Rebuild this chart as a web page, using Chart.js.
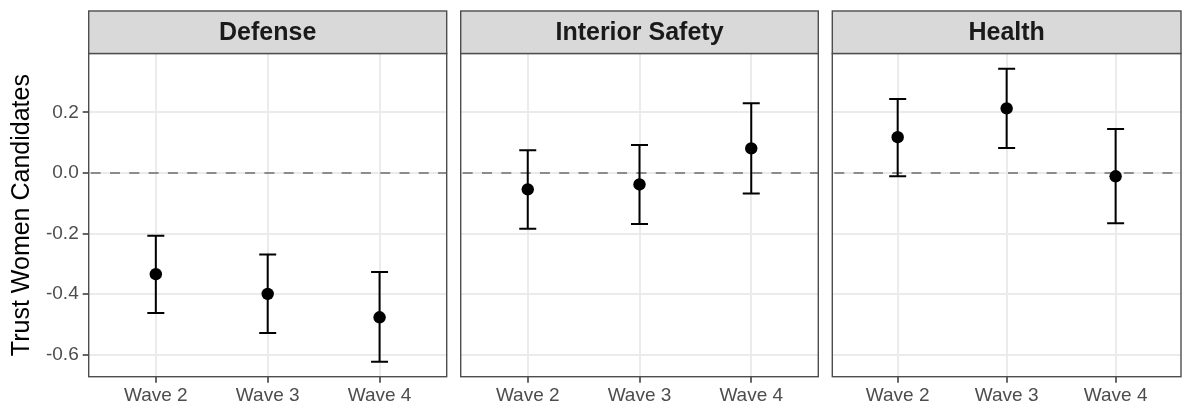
<!DOCTYPE html>
<html>
<head>
<meta charset="utf-8">
<script src="https://cdn.jsdelivr.net/npm/chart.js@4/dist/chart.umd.min.js"></script>
<style>
  html, body { margin: 0; padding: 0; background: #ffffff; }
  #wrap { position: relative; width: 1182px; height: 405px; overflow: hidden; }
  #wrap canvas { position: absolute; left: 0; top: 0; }
</style>
</head>
<body>
<div id="wrap">
  <canvas id="c0" width="1182" height="405"></canvas>
  <canvas id="c1" width="1182" height="405"></canvas>
  <canvas id="c2" width="1182" height="405"></canvas>
</div>
<script>
// ---- data ----
const waves = ['Wave 2', 'Wave 3', 'Wave 4'];
const panels = ['Defense', 'Interior Safety', 'Health'];
const yTicks = [-0.6, -0.4, -0.2, 0.0, 0.2];
const yTitle = 'Trust Women Candidates';

const defenseEst  = [-0.334, -0.399, -0.476];
const defenseLo   = [-0.462, -0.528, -0.623];
const defenseHi   = [-0.207, -0.269, -0.327];

const interiorEst = [-0.054, -0.038, 0.081];
const interiorLo  = [-0.184, -0.168, -0.068];
const interiorHi  = [0.075, 0.092, 0.230];

const healthEst   = [0.118, 0.213, -0.011];
const healthLo    = [-0.011, 0.082, -0.166];
const healthHi    = [0.244, 0.344, 0.145];

const refLine = 0;

// ---- layout ----
const FONT = '"Liberation Sans", Arial, Helvetica, sans-serif';
const W = 1182, H = 405;
const plotTop = 53.5, plotBottom = 376.7, stripTop = 11;
const panelBox = [[88.7, 446.7], [460.7, 818.3], [832.3, 1181]];
const panelData = [
  [defenseEst, defenseLo, defenseHi],
  [interiorEst, interiorLo, interiorHi],
  [healthEst, healthLo, healthHi]
];

const facetPlugin = {
  id: 'facet',
  beforeDatasetsDraw(chart, args, opts) {
    const ctx = chart.ctx, a = chart.chartArea;
    const x = chart.scales.x, y = chart.scales.y;
    // reference dashed line
    ctx.save();
    ctx.strokeStyle = '#8c8c8c';
    ctx.lineWidth = 2;
    ctx.setLineDash([10, 9.3]);
    ctx.lineDashOffset = -2;
    const y0 = y.getPixelForValue(refLine);
    ctx.beginPath();
    ctx.moveTo(a.left, y0);
    ctx.lineTo(a.right, y0);
    ctx.stroke();
    ctx.restore();
    // error bars
    ctx.save();
    ctx.strokeStyle = '#000000';
    ctx.lineWidth = 2;
    const lo = opts.lo, hi = opts.hi;
    for (let i = 0; i < lo.length; i++) {
      const px = x.getPixelForValue(i + 1);
      const pl = y.getPixelForValue(lo[i]);
      const ph = y.getPixelForValue(hi[i]);
      const cw = 8.5;
      ctx.beginPath();
      ctx.moveTo(px, pl); ctx.lineTo(px, ph);
      ctx.moveTo(px - cw, pl); ctx.lineTo(px + cw, pl);
      ctx.moveTo(px - cw, ph); ctx.lineTo(px + cw, ph);
      ctx.stroke();
    }
    ctx.restore();
  },
  afterDraw(chart, args, opts) {
    const ctx = chart.ctx, a = chart.chartArea;
    ctx.save();
    // panel border
    ctx.strokeStyle = '#4d4d4d';
    ctx.lineWidth = 1.4;
    ctx.strokeRect(a.left, a.top, a.right - a.left, a.bottom - a.top);
    // strip
    ctx.fillStyle = '#d9d9d9';
    ctx.fillRect(a.left, stripTop, a.right - a.left, a.top - stripTop);
    ctx.strokeRect(a.left, stripTop, a.right - a.left, a.top - stripTop);
    ctx.fillStyle = '#1a1a1a';
    ctx.font = 'bold 25px ' + FONT;
    ctx.textAlign = 'center';
    ctx.textBaseline = 'middle';
    ctx.fillText(opts.title, (a.left + a.right) / 2, (stripTop + a.top) / 2 + 1);
    ctx.restore();
  }
};

function makeChart(idx) {
  const [est, lo, hi] = panelData[idx];
  const [L, R] = panelBox[idx];
  const first = idx === 0;
  const yW = first ? L : 0;
  const pts = est.map((v, i) => ({ x: i + 1, y: v }));
  return new Chart(document.getElementById('c' + idx), {
    type: 'scatter',
    data: {
      datasets: [{
        data: pts,
        backgroundColor: '#000000',
        borderColor: '#000000',
        borderWidth: 0,
        pointRadius: 6.2,
        pointHoverRadius: 6.2
      }]
    },
    options: {
      responsive: false,
      animation: false,
      events: [],
      layout: { autoPadding: false, padding: { left: first ? 0 : L, right: W - R, top: plotTop, bottom: 0 } },
      plugins: {
        legend: { display: false },
        tooltip: { enabled: false },
        facet: { title: panels[idx], lo: lo, hi: hi }
      },
      scales: {
        x: {
          type: 'linear',
          min: 0.4,
          max: 3.6,
          afterBuildTicks: (s) => { s.ticks = waves.map((w, i) => ({ value: i + 1 })); },
          afterFit: (s) => { s.height = H - plotBottom; s.paddingLeft = 0; s.paddingRight = 0; },
          ticks: {
            callback: (v) => waves[Math.round(v) - 1],
            color: '#4d4d4d',
            font: { family: FONT, size: 19 },
            padding: 2,
            maxRotation: 0,
            autoSkip: false
          },
          grid: {
            color: '#ebebeb',
            lineWidth: 2,
            drawTicks: true,
            tickLength: 6,
            tickColor: '#333333',
            tickWidth: 1.5
          },
          border: { display: false }
        },
        y: {
          type: 'linear',
          min: -0.672,
          max: 0.394,
          afterBuildTicks: (s) => { s.ticks = yTicks.map(v => ({ value: v })); },
          afterFit: (s) => { s.width = yW; s.paddingTop = 0; s.paddingBottom = 0; },
          ticks: {
            display: first,
            callback: (v) => v.toFixed(1),
            color: '#4d4d4d',
            font: { family: FONT, size: 19 },
            padding: 4
          },
          title: {
            display: first,
            text: yTitle,
            color: '#000000',
            font: { family: FONT, size: 25 },
            padding: { top: 7, bottom: 2 }
          },
          grid: {
            color: '#ebebeb',
            lineWidth: 2,
            drawTicks: first,
            tickLength: 6,
            tickColor: '#333333',
            tickWidth: 1.5
          },
          border: { display: false }
        }
      }
    },
    plugins: [facetPlugin]
  });
}

[0, 1, 2].forEach(makeChart);
</script>
</body>
</html>
